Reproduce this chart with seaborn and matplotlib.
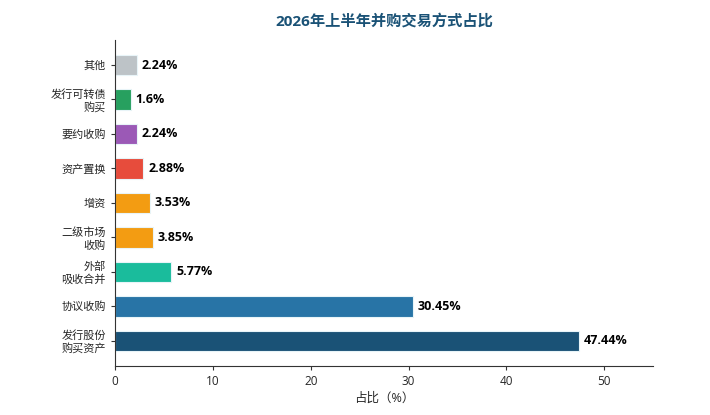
import pandas as pd
import seaborn as sns
import matplotlib.pyplot as plt

fangshi = ["其他", "发行可转债\n购买", "要约收购", "资产置换", "增资",
           "二级市场\n收购", "外部\n吸收合并", "协议收购", "发行股份\n购买资产"]
zhanbi = [2.24, 1.6, 2.24, 2.88, 3.53, 3.85, 5.77, 30.45, 47.44]
biaoqian = ["2.24%", "1.6%", "2.24%", "2.88%", "3.53%", "3.85%", "5.77%", "30.45%", "47.44%"]
yanse = ["#bdc3c7", "#27a05f", "#9b59b6", "#e74c3c", "#f39c12",
         "#f39c12", "#1abc9c", "#2874a6", "#1a5276"]

sns.set_style("white")
plt.rcParams['font.family'] = ['Open Sans', 'Noto Sans CJK SC', 'DejaVu Sans']

df = pd.DataFrame({"方式": fangshi, "占比": zhanbi})

fig = plt.figure(figsize=(7.1, 4.15), dpi=100)
ax = fig.add_axes([0.162, 0.118, 0.758, 0.786])
sns.barplot(data=df, x="占比", y="方式", hue="方式", palette=yanse, legend=False,
            saturation=1, width=0.6, edgecolor="#e8f4f8", linewidth=0.8, ax=ax)

for i, (v, t) in enumerate(zip(zhanbi, biaoqian)):
    ax.text(v + 0.5, i, t, va="center", ha="left", fontsize=9, fontweight="bold", color="black")

ax.set_xlim(0, 55)
ax.set_ylim(8.73, -0.73)
ax.set_xticks([0, 10, 20, 30, 40, 50])
ax.set_xlabel("占比（%）", fontsize=9, labelpad=3)
ax.set_ylabel("")
ax.tick_params(axis="x", labelsize=8.5, length=3, bottom=True, color="#333333")
ax.tick_params(axis="y", labelsize=8, length=3, left=True, color="#333333")
ax.set_title("2026年上半年并购交易方式占比", fontsize=11, fontweight="bold", color="#1a5276", pad=10)
sns.despine(ax=ax)
for s in ["left", "bottom"]:
    ax.spines[s].set_color("#333333")

plt.savefig("out.png", dpi=100)
